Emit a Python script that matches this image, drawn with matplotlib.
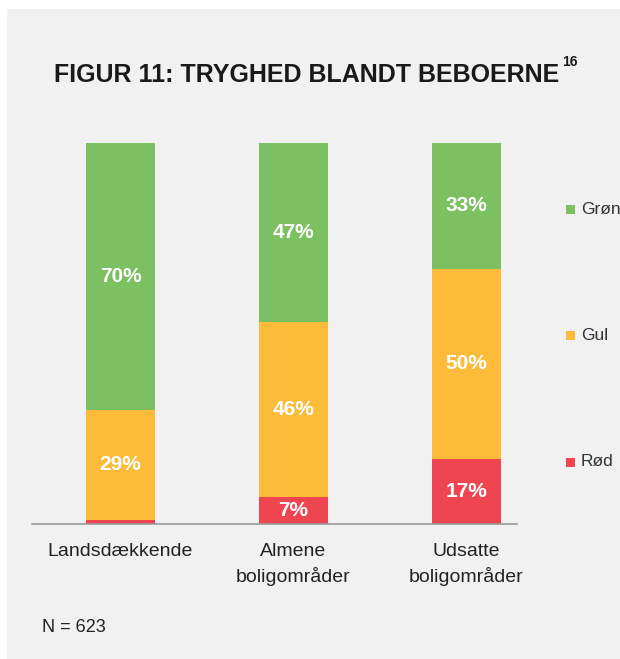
import matplotlib
matplotlib.use('Agg')
import matplotlib.pyplot as plt
from matplotlib.patches import Rectangle
import numpy as np

# data
kategorier = ['Landsdækkende', 'Almene\nboligområder', 'Udsatte\nboligområder']
roed = [1, 7, 17]
gul = [29, 46, 50]
groen = [70, 47, 33]
serier = ['Grøn', 'Gul', 'Rød']

farver = {'Rød': '#EE4550', 'Gul': '#FDBB3A', 'Grøn': '#7CC062'}
FONT = ['Liberation Sans', 'DejaVu Sans']

W, H = 620, 659
fig = plt.figure(figsize=(W / 100, H / 100), dpi=100)
fig.patch.set_facecolor('white')

# grå baggrund
fig.patches.append(Rectangle((7 / W, 0), 1 - 7 / W, 1 - 9 / H,
                             transform=fig.transFigure, facecolor='#F1F1F1',
                             edgecolor='none', zorder=-10))

ax = fig.add_axes([32 / W, 135 / H, 485 / W, 381 / H])
ax.set_facecolor('none')

x = np.arange(len(kategorier))
b = 0.4
roed = np.array(roed)
gul = np.array(gul)
groen = np.array(groen)

ax.bar(x, roed, b, color=farver['Rød'], linewidth=0)
ax.bar(x, gul, b, bottom=roed, color=farver['Gul'], linewidth=0)
ax.bar(x, groen, b, bottom=roed + gul, color=farver['Grøn'], linewidth=0)

lbl = dict(color='white', fontsize=15, fontweight='bold', ha='center', va='center',
           family=FONT)
for i in range(len(x)):
    if roed[i] >= 5:
        ax.text(x[i], roed[i] / 2, f'{roed[i]}%', **lbl)
    ax.text(x[i], roed[i] + gul[i] / 2, f'{gul[i]}%', **lbl)
    ax.text(x[i], roed[i] + gul[i] + groen[i] / 2, f'{groen[i]}%', **lbl)

ax.set_xlim(-0.512, 2.292)
ax.set_ylim(0, 100)
for s in ['top', 'right', 'left']:
    ax.spines[s].set_visible(False)
ax.spines['bottom'].set_color('#9A9A9A')
ax.spines['bottom'].set_linewidth(1.2)
ax.set_yticks([])
ax.set_xticks(x)
ax.set_xticklabels(kategorier, fontsize=14, color='#222222', linespacing=1.45,
                   family=FONT)
ax.tick_params(axis='x', length=0, pad=14)

# forklaring
for k, navn in enumerate(serier):
    yy = (209 + k * 126.5)
    fig.patches.append(Rectangle((566 / W, 1 - (yy + 4.5) / H), 9 / W, 9 / H,
                                 transform=fig.transFigure, facecolor=farver[navn],
                                 edgecolor='none'))
    fig.text(581 / W, 1 - yy / H, navn, fontsize=12.5, color='#333333', va='center',
             family=FONT)

fig.text(54 / W, 1 - 75 / H, 'FIGUR 11: TRYGHED BLANDT BEBOERNE', fontsize=18,
         fontweight='bold', color='#1a1a1a', va='center', family=FONT)
fig.text(562 / W, 1 - 62 / H, '16', fontsize=10, fontweight='bold', color='#1a1a1a',
         va='center', family=FONT)

fig.text(42 / W, 1 - 628 / H, 'N = 623', fontsize=13, color='#222222', va='center',
         family=FONT)

fig.savefig('out.png', dpi=100)
